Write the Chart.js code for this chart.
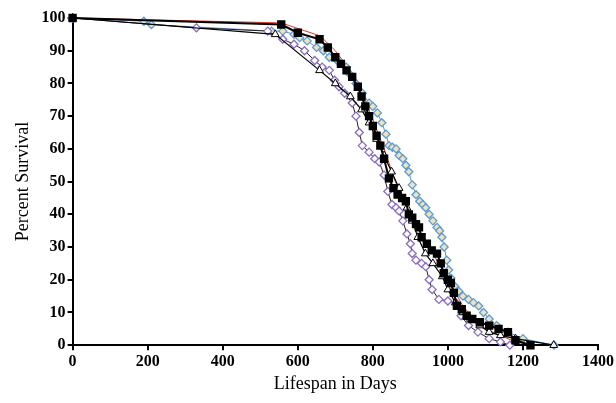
<!DOCTYPE html>
<html>
<head>
<meta charset="utf-8">
<script src="https://cdn.jsdelivr.net/npm/chart.js@4"></script>
<style>
  html, body { margin: 0; padding: 0; background: #fff; }
  #wrap { width: 616px; height: 403px; }
</style>
</head>
<body>
<div id="wrap"><canvas id="myChart" width="616" height="403"></canvas></div>
<script>
// survival data (days, percent surviving)
var squareDays = [0, 556, 600, 658, 680, 700, 715, 730, 745, 760, 770, 780, 790, 800, 810, 820, 830, 843, 855, 866, 878, 888, 896, 905, 915, 923, 930, 944, 957, 971, 981, 989, 1000, 1008, 1016, 1024, 1037, 1050, 1065, 1085, 1110, 1135, 1160, 1180, 1220];
var squareSurv = [100, 98, 95.5, 93.5, 91, 88, 86, 84, 82, 79, 76, 73, 70, 67, 64, 61, 57, 51, 48, 46, 45, 44, 40, 39, 37, 36, 33, 31, 29, 28, 25, 22, 20, 19, 16, 12, 11, 9, 8, 7, 6, 5, 4, 1.5, 0];

var triDays = [0, 540, 658, 700, 740, 770, 790, 810, 830, 850, 870, 891, 905, 920, 940, 960, 985, 1000, 1020, 1040, 1060, 1085, 1110, 1140, 1180, 1282];
var triSurv = [100, 95, 84, 80, 76, 72, 68, 63, 58, 53, 48, 42, 38, 33, 28, 25, 21, 17, 13, 10, 8, 6, 4, 3, 2, 0];

var blueDays = [0, 190, 210, 530, 560, 590, 605, 625, 650, 668, 684, 705, 729, 737, 755, 772, 790, 800, 812, 824, 835, 843, 852, 862, 870, 880, 888, 896, 905, 915, 925, 933, 941, 950, 960, 971, 978, 984, 990, 997, 1002, 1008, 1018, 1029, 1040, 1055, 1068, 1082, 1095, 1110, 1130, 1160, 1200, 1283];
var blueSurv = [100, 99, 98, 96, 96, 95, 94, 93, 91, 90, 88, 87, 85, 83, 80, 77, 74, 73, 71, 68, 64.5, 61, 60.5, 60, 58, 57, 55, 53, 49, 46, 44, 43, 42, 40, 38, 36, 35, 33, 30, 26, 23, 20.5, 18, 16.5, 15, 14, 13, 12, 10, 8, 6, 4, 2, 0];

var purpleDays = [0, 330, 520, 560, 590, 618, 645, 665, 684, 698, 710, 725, 745, 755, 764, 772, 790, 805, 817, 830, 840, 851, 862, 870, 880, 891, 900, 905, 915, 930, 941, 950, 958, 976, 1000, 1021, 1035, 1055, 1080, 1110, 1140, 1165];
var purpleSurv = [100, 97, 96, 93.5, 92, 90, 87, 85, 84, 81, 79, 77, 74, 70, 65, 61, 59, 57, 56, 52, 47, 43, 42, 41, 38, 34, 31, 28, 26, 25, 24, 20, 17, 14, 13.5, 13, 9, 6, 4, 2, 1, 0];

var redDays = [0, 556, 660, 700, 740, 770, 800, 830, 860, 890, 920, 950, 980, 1010, 1040, 1070, 1100, 1140, 1180, 1230];
var redSurv = [100, 98.5, 94.5, 90, 84, 77, 69, 60, 50, 42, 36, 30, 24, 18, 12, 8, 5, 3, 1, 0];

var xTicks = [0, 200, 400, 600, 800, 1000, 1200, 1400];
var yTicks = [0, 10, 20, 30, 40, 50, 60, 70, 80, 90, 100];

function toPoints(xs, ys) {
    var pts = [];
    for (var i = 0; i < xs.length; i++) {
        pts.push({ x: xs[i], y: ys[i] });
    }
    return pts;
}

function plainLabel(value) {
    return String(value);
}

var serif = "'Liberation Serif', 'Times New Roman', serif";

new Chart("myChart", {
    type: 'scatter',
    data: {
        datasets: [{
            data: toPoints(redDays, redSurv),
            showLine: true,
            borderColor: '#d9342b',
            borderWidth: 1,
            pointRadius: 0,
            order: 5
        }, {
            data: toPoints(blueDays, blueSurv),
            showLine: true,
            borderColor: '#5b8fc9',
            borderWidth: 1,
            pointStyle: 'rectRot',
            pointRadius: 4,
            pointBackgroundColor: '#efe3bd',
            pointBorderColor: '#5b9bd5',
            pointBorderWidth: 1.3,
            order: 4
        }, {
            data: toPoints(purpleDays, purpleSurv),
            showLine: true,
            borderColor: '#222',
            borderWidth: 1,
            pointStyle: 'rectRot',
            pointRadius: 4,
            pointBackgroundColor: '#fff',
            pointBorderColor: '#8a6cc4',
            pointBorderWidth: 1.3,
            order: 3
        }, {
            data: toPoints(triDays, triSurv),
            showLine: true,
            borderColor: '#000',
            borderWidth: 1.2,
            pointStyle: 'triangle',
            pointRadius: 4.5,
            pointBackgroundColor: '#fff',
            pointBorderColor: '#000',
            pointBorderWidth: 1,
            order: 2
        }, {
            data: toPoints(squareDays, squareSurv),
            showLine: true,
            borderColor: '#000',
            borderWidth: 2,
            pointStyle: 'rect',
            pointRadius: 4.5,
            pointBackgroundColor: '#000',
            pointBorderColor: '#000',
            order: 1
        }]
    },
    options: {
        responsive: false,
        animation: false,
        clip: false,
        layout: {
            padding: { top: 18, right: 13, left: 8, bottom: 4 }
        },
        plugins: {
            legend: { display: false },
            tooltip: { enabled: false }
        },
        scales: {
            x: {
                type: 'linear',
                min: 0,
                max: 1400,
                afterBuildTicks: function (axis) {
                    axis.ticks = xTicks.map(function (v) { return { value: v }; });
                },
                grid: { drawOnChartArea: false, drawTicks: true, tickLength: 5, color: '#000', lineWidth: 2 },
                border: { color: '#000', width: 2 },
                ticks: {
                    color: '#000',
                    padding: 2,
                    maxRotation: 0,
                    callback: plainLabel,
                    font: { family: serif, size: 16, weight: 'bold' }
                },
                title: {
                    display: true,
                    text: 'Lifespan in Days',
                    color: '#000',
                    padding: { top: 0 },
                    font: { family: serif, size: 18 }
                }
            },
            y: {
                min: 0,
                max: 100,
                afterBuildTicks: function (axis) {
                    axis.ticks = yTicks.map(function (v) { return { value: v }; });
                },
                grid: { drawOnChartArea: false, drawTicks: true, tickLength: 5, color: '#000', lineWidth: 2 },
                border: { color: '#000', width: 2 },
                ticks: {
                    color: '#000',
                    padding: 2,
                    callback: plainLabel,
                    font: { family: serif, size: 16, weight: 'bold' }
                },
                title: {
                    display: true,
                    text: 'Percent Survival',
                    color: '#000',
                    padding: { bottom: 6 },
                    font: { family: serif, size: 18 }
                }
            }
        }
    }
});
</script>
</body>
</html>
